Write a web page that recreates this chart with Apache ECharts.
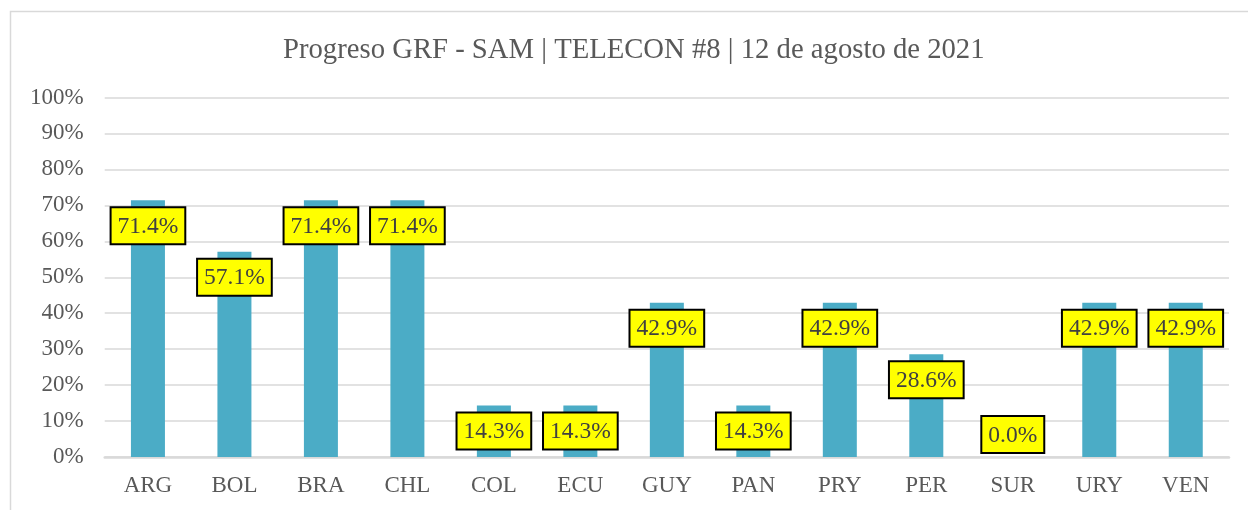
<!DOCTYPE html>
<html>
<head>
<meta charset="utf-8">
<script src="https://cdn.jsdelivr.net/npm/echarts@6/dist/echarts.min.js"></script>
<style>
html,body{margin:0;padding:0;background:#fff;}
#chart{width:1248px;height:510px;}
</style>
</head>
<body>
<div id="chart"></div>
<script>
const categories = ['ARG','BOL','BRA','CHL','COL','ECU','GUY','PAN','PRY','PER','SUR','URY','VEN'];
const progress = [71.4, 57.1, 71.4, 71.4, 14.3, 14.3, 42.9, 14.3, 42.9, 28.6, 0.0, 42.9, 42.9];
const yTicks = [0,10,20,30,40,50,60,70,80,90,100];
const titleText = 'Progreso GRF - SAM | TELECON #8 | 12 de agosto de 2021';

const serif = '"Liberation Serif", "Times New Roman", serif';
const chart = echarts.init(document.getElementById('chart'));
const barData = progress.map(v => v === 0
  ? { value: v, label: { position: 'insideBottom', distance: 5 } }
  : v);

chart.setOption({
  animation: false,
  backgroundColor: '#fff',
  title: {
    text: titleText,
    left: 278,
    top: 31,
    textStyle: { fontFamily: serif, fontSize: 28.7, fontWeight: 'normal', color: '#595959' }
  },
  graphic: [{
    type: 'rect',
    shape: { x: 10.5, y: 11.5, width: 1300, height: 600 },
    style: { fill: 'none', stroke: '#d9d9d9', lineWidth: 1.5 },
    silent: true
  }],
  grid: { left: 104.7, right: 19, top: 97.5, bottom: 53, containLabel: false },
  xAxis: {
    type: 'category',
    data: categories,
    axisTick: { show: false },
    axisLine: { lineStyle: { color: '#d9d9d9', width: 2.5 } },
    axisLabel: { fontFamily: serif, fontSize: 23, color: '#595959', margin: 17 }
  },
  yAxis: {
    type: 'value',
    min: yTicks[0],
    max: yTicks[yTicks.length - 1],
    interval: yTicks[1] - yTicks[0],
    axisLine: { show: false },
    axisTick: { show: false },
    splitLine: { lineStyle: { color: '#d9d9d9', width: 1.5 } },
    axisLabel: { fontFamily: serif, fontSize: 23, color: '#595959', margin: 21, formatter: '{value}%' }
  },
  series: [{
    type: 'bar',
    data: barData,
    barWidth: 34,
    itemStyle: { color: '#4bacc6' },
    label: {
      show: true,
      position: 'insideTop',
      distance: 8,
      formatter: p => Number(p.value).toFixed(1) + '%',
      fontFamily: serif,
      fontSize: 23.5,
      lineHeight: 25,
      color: '#404040',
      backgroundColor: '#ffff00',
      borderColor: '#000',
      borderWidth: 2,
      padding: [6, 6, 4, 6]
    }
  }]
});
</script>
</body>
</html>
